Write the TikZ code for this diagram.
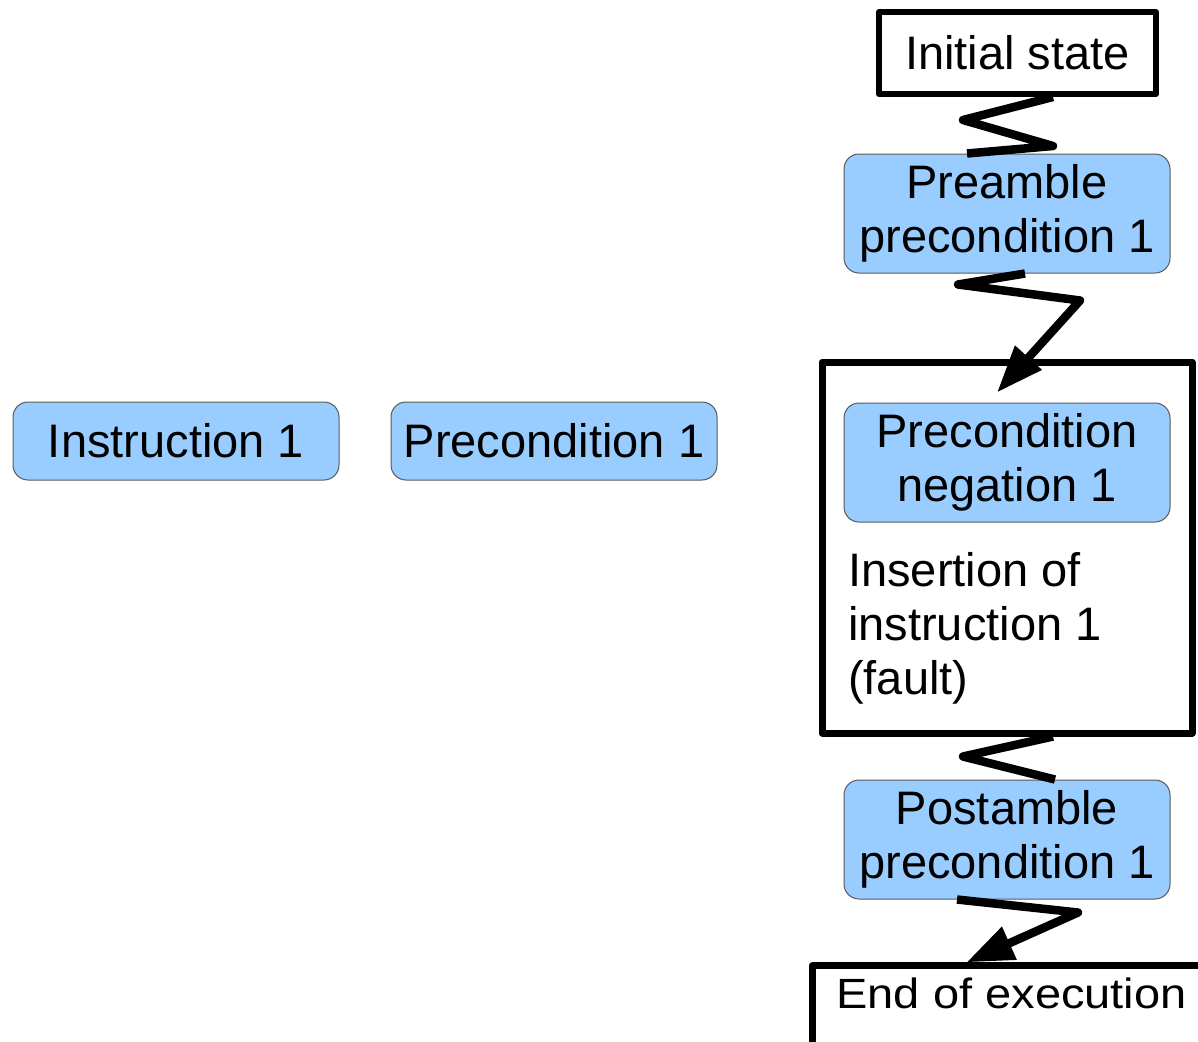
\documentclass[tikz,border=0pt]{standalone}
\usepackage{fontspec}
\setmainfont{Liberation Sans}
\usetikzlibrary{arrows.meta}
\definecolor{condblue}{RGB}{153,204,255}
\tikzset{
  condbox/.style={draw=black!65, line width=1pt, fill=condblue, rounded corners=15pt,
    minimum width=326pt, align=center, inner sep=0pt},
  statebox/.style={draw, line width=6pt, line join=round, inner sep=0pt},
  zigzag/.style={line width=8.5pt, line join=round},
  zigarrow/.style={zigzag, -{Triangle[length=47pt,width=34pt]}}
}
\begin{document}
\begin{tikzpicture}[x=1pt,y=-1pt,font=\fontsize{47}{54}\selectfont]
	\useasboundingbox (0,0) rectangle (1198,1041);

	% Blocchi a sinistra
	\node[condbox, minimum height=78pt] (instr) at (176,441) {Instruction 1};
	\node[condbox, minimum height=78pt] (precond) at (554,441) {Precondition 1};

	% Colonna di destra
	\node[statebox, minimum width=277pt, minimum height=82pt] (init) at (1017.5,53) {Initial state};
	\node[condbox, minimum height=119pt] (preamble) at (1007,213.5) {Preamble\\precondition 1};
	\node[statebox, line width=7pt, minimum width=370pt, minimum height=371pt] (fault) at (1007,547.5) {};
	\node[condbox, minimum height=119pt] (negation) at (1007,462.5) {Precondition\\negation 1};
	\node[anchor=north west, align=left, inner sep=0pt] (insertion) at (848,552)
		{Insertion of\\instruction 1\\(fault)};
	\node[condbox, minimum height=119pt] (postamble) at (1007,839.5) {Postamble\\precondition 1};
	\node[statebox, line width=7pt, anchor=base west, inner xsep=24.5pt, inner ysep=11.5pt,
		text depth=60pt] (end) at (808.5,1008) {\scalebox{1}[0.9]{End of execution}};

	% Collegamenti a zig-zag
	\draw[zigzag] ([xshift=35.5pt]init.south) -- ++(-90,23) -- ++(90,26)
		-- ([xshift=-40pt]preamble.north);
	\draw[zigarrow] ([xshift=18pt]preamble.south) -- ++(-67,11) -- ++(122,16)
		-- ([xshift=-10pt,yshift=10pt]negation.north);
	\draw[zigzag] ([xshift=46pt]fault.south) -- ++(-90,20)
		-- ([xshift=48pt]postamble.north);
	\draw[zigarrow] ([xshift=-50pt]postamble.south) -- ++(121,13)
		-- ([xshift=158pt]end.north west);
\end{tikzpicture}
\end{document}
